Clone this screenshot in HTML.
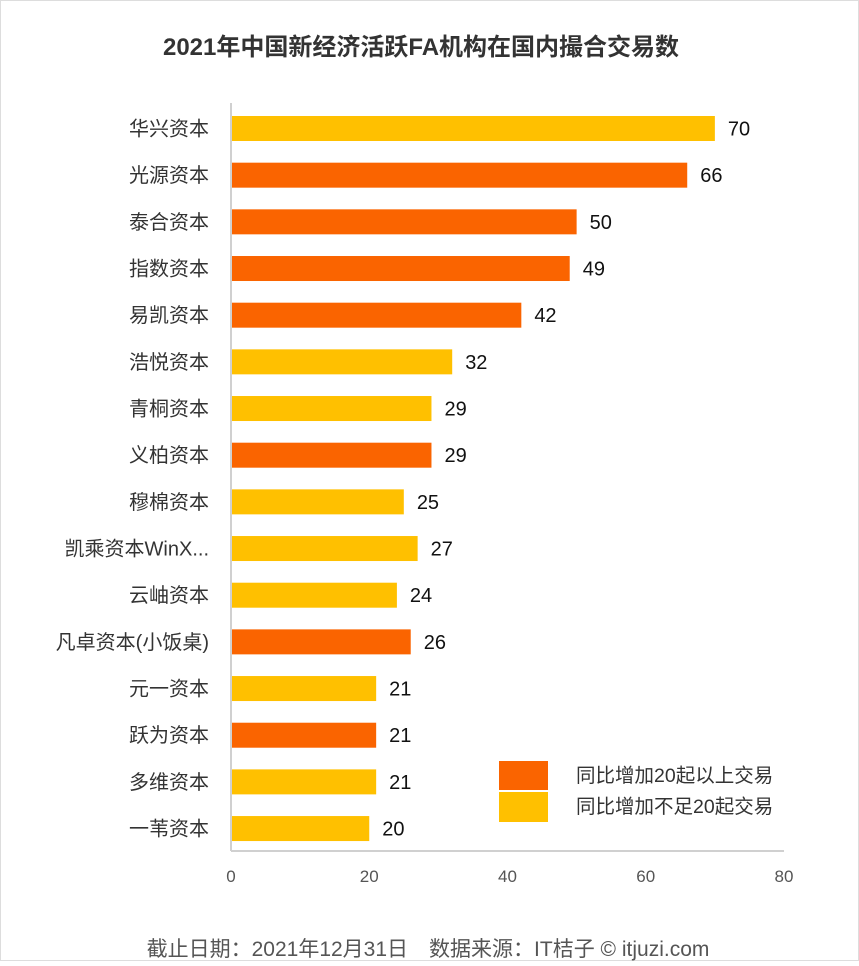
<!DOCTYPE html>
<html><head><meta charset="utf-8"><style>
body{margin:0;background:#fff;width:859px;height:961px;overflow:hidden;font-family:"Liberation Sans","Noto Sans CJK SC",sans-serif}
svg text{font-family:"Liberation Sans","Noto Sans CJK SC",sans-serif}
</style></head><body>
<svg id="chart" width="859" height="961" xmlns="http://www.w3.org/2000/svg">
<rect x="0.5" y="0.5" width="858" height="960" fill="#fff" stroke="#ddd"/>
<text x="421" y="55" text-anchor="middle" font-size="24" font-weight="bold" fill="#333">2021年中国新经济活跃FA机构在国内撮合交易数</text>
<g id="plot"></g>
<g>
<rect x="499" y="761" width="49" height="29" fill="#FA6400"/>
<text x="576" y="782" font-size="19.5" fill="#333">同比增加20起以上交易</text>
<rect x="499" y="792" width="49" height="30" fill="#FFC000"/>
<text x="576" y="813" font-size="19.5" fill="#333">同比增加不足20起交易</text>
</g>
<text x="428" y="956" text-anchor="middle" font-size="21" fill="#555">截止日期：2021年12月31日　数据来源：IT桔子 © itjuzi.com</text>
</svg>
<script>
const categories=["华兴资本","光源资本","泰合资本","指数资本","易凯资本","浩悦资本","青桐资本","义柏资本","穆棉资本","凯乘资本WinX...","云岫资本","凡卓资本(小饭桌)","元一资本","跃为资本","多维资本","一苇资本"];
const values=[70,66,50,49,42,32,29,29,25,27,24,26,21,21,21,20];
const over20=[0,1,1,1,1,0,0,1,0,0,0,1,0,1,0,0];
const xTicks=[0,20,40,60,80];
const NS="http://www.w3.org/2000/svg";
const g=document.getElementById('plot');
const x0=231,x1=784,xMax=80,yTop=128.5,step=46.67,bh=25;
const xs=v=>x0+(v/xMax)*(x1-x0);
const ys=i=>yTop+i*step;
function mk(t,a){const e=document.createElementNS(NS,t);for(const k in a)e.setAttribute(k,a[k]);g.appendChild(e);return e;}
categories.forEach((c,i)=>{
 const r=mk('rect',{x:x0,y:ys(i)-bh/2,width:xs(values[i])-x0,height:bh,fill:over20[i]?'#FA6400':'#FFC000'});
 
 
 const l=mk('text',{x:209,y:ys(i)+7,'text-anchor':'end','font-size':20,fill:'#333'});l.textContent=c;
 
 
 const v=mk('text',{x:xs(values[i])+13,y:ys(i)+7,'font-size':20,fill:'#111'});v.textContent=values[i];
 
 
});
const ya=mk('line',{x1:x0,y1:103,x2:x0,y2:851,stroke:'#d0d0d0','stroke-width':2});


const xa=mk('line',{x1:x0,y1:851,x2:x1,y2:851,stroke:'#d0d0d0','stroke-width':2});


xTicks.forEach(t=>{
 const e=mk('text',{x:xs(t),y:882,'text-anchor':'middle','font-size':17,fill:'#555'});e.textContent=t;
 
 
});
</script>
</body></html>
